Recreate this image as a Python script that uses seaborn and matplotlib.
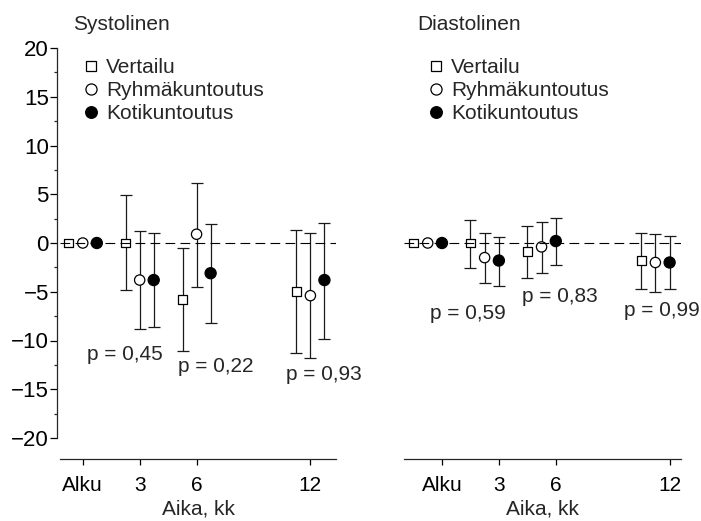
import matplotlib
matplotlib.use("Agg")
import matplotlib.pyplot as plt
from matplotlib.lines import Line2D
from matplotlib.ticker import MultipleLocator
import numpy as np
import pandas as pd
import seaborn as sns

# Follow-up time points (months); "Alku" = baseline
months = [0, 3, 6, 12]
tick_labels = ["Alku", "3", "6", "12"]
groups = ["Vertailu", "Ryhmäkuntoutus", "Kotikuntoutus"]

# Systolic change from baseline (mmHg): mean, CI low, CI high
sys_vertailu = [0.0, 0.0, -5.8, -5.0]
sys_vertailu_lo = [0.0, -4.8, -11.1, -11.3]
sys_vertailu_hi = [0.0, 4.9, -0.5, 1.3]
sys_ryhma = [0.0, -3.8, 0.9, -5.4]
sys_ryhma_lo = [0.0, -8.8, -4.5, -11.8]
sys_ryhma_hi = [0.0, 1.2, 6.2, 1.0]
sys_koti = [0.0, -3.8, -3.1, -3.8]
sys_koti_lo = [0.0, -8.6, -8.2, -9.8]
sys_koti_hi = [0.0, 1.0, 2.0, 2.1]
sys_p = ["p = 0,45", "p = 0,22", "p = 0,93"]

# Diastolic change from baseline (mmHg)
dia_vertailu = [0.0, 0.0, -0.9, -1.8]
dia_vertailu_lo = [0.0, -2.6, -3.6, -4.7]
dia_vertailu_hi = [0.0, 2.4, 1.7, 1.0]
dia_ryhma = [0.0, -1.5, -0.4, -2.0]
dia_ryhma_lo = [0.0, -4.1, -3.1, -5.0]
dia_ryhma_hi = [0.0, 1.0, 2.2, 0.9]
dia_koti = [0.0, -1.8, 0.2, -2.0]
dia_koti_lo = [0.0, -4.4, -2.3, -4.7]
dia_koti_hi = [0.0, 0.6, 2.6, 0.7]
dia_p = ["p = 0,59", "p = 0,83", "p = 0,99"]


def long_table(means, los, his):
    rows = []
    for g, m, lo, hi in zip(groups, means, los, his):
        for t, mv, lv, hv in zip(months, m, lo, hi):
            rows.append({"group": g, "month": t, "mean": mv, "lo": lv, "hi": hv})
    return pd.DataFrame(rows)


sys_df = long_table([sys_vertailu, sys_ryhma, sys_koti],
                    [sys_vertailu_lo, sys_ryhma_lo, sys_koti_lo],
                    [sys_vertailu_hi, sys_ryhma_hi, sys_koti_hi])
dia_df = long_table([dia_vertailu, dia_ryhma, dia_koti],
                    [dia_vertailu_lo, dia_ryhma_lo, dia_koti_lo],
                    [dia_vertailu_hi, dia_ryhma_hi, dia_koti_hi])

sns.set_style("ticks")
FS = 15
plt.rcParams["font.family"] = ["Liberation Sans", "DejaVu Sans"]
plt.rcParams["lines.scale_dashes"] = False
plt.rcParams["xtick.labelsize"] = FS
plt.rcParams["ytick.labelsize"] = FS

face = {"Vertailu": "white", "Ryhmäkuntoutus": "white", "Kotikuntoutus": "black"}
shape = {"Vertailu": "s", "Ryhmäkuntoutus": "o", "Kotikuntoutus": "o"}
area = {"Vertailu": 40, "Ryhmäkuntoutus": 55, "Kotikuntoutus": 64}

fig = plt.figure(figsize=(7.01, 5.21), dpi=100)
ax1 = fig.add_axes([60 / 701, 83 / 521, 276 / 701, 390 / 521])
ax2 = fig.add_axes([404 / 701, 83 / 521, 277 / 701, 390 / 521])


def draw_panel(ax, df, dodge, xlim, pvals, ppos):
    df = df.copy()
    df["x"] = df["month"] + df["group"].map(dict(zip(groups, dodge)))
    ax.axhline(0, color="black", lw=0.8, ls=(0, (7, 3.8)), zorder=5)
    for g in groups:
        sub = df[(df["group"] == g) & (df["hi"] > df["lo"])]
        ax.errorbar(sub["x"], sub["mean"],
                    yerr=[sub["mean"] - sub["lo"], sub["hi"] - sub["mean"]],
                    fmt="none", ecolor="#1a1a1a", elinewidth=0.9,
                    capsize=4.3, capthick=0.9, zorder=2)
    sns.scatterplot(data=df, x="x", y="mean", hue="group", style="group",
                    size="group", palette=face, markers=shape, sizes=area,
                    edgecolor="black", linewidth=0.9, legend=False,
                    ax=ax, zorder=4)
    for txt, (px, py) in zip(pvals, ppos):
        ax.text(px, py, txt, ha="center", va="center", fontsize=FS)
    ax.set_xlim(*xlim)
    ax.set_ylim(-20, 20)
    ax.set_xticks(months)
    ax.set_xticklabels(tick_labels)
    ax.set_xlabel("Aika, kk", fontsize=FS, labelpad=3)
    ax.set_ylabel("")
    ax.spines["top"].set_visible(False)
    ax.spines["right"].set_visible(False)
    ax.spines["bottom"].set_position(("outward", 15))
    ax.spines["bottom"].set_linewidth(0.9)
    ax.tick_params(axis="x", length=4.5, width=0.9, pad=8, colors="black",
                   labelsize=FS)


draw_panel(ax1, sys_df, [-0.74, 0.0, 0.74], (-1.2, 13.35), sys_p,
           [(2.2, -11.4), (7.0, -12.7), (12.7, -13.5)])
draw_panel(ax2, dia_df, [-1.5, -0.75, 0.0], (-2.0, 12.6), dia_p,
           [(1.36, -7.2), (6.2, -5.5), (11.6, -6.9)])

# Systolic y axis with minor ticks between labelled values
ax1.spines["left"].set_position(("outward", 2))
ax1.spines["left"].set_linewidth(0.9)
ax1.yaxis.set_major_locator(MultipleLocator(5))
ax1.yaxis.set_minor_locator(MultipleLocator(2.5))
ax1.tick_params(axis="y", which="major", length=5, width=0.9, pad=1,
                labelsize=16, colors="black")
ax1.tick_params(axis="y", which="minor", length=2.5, width=0.9)

# Diastolic panel has no y axis
ax2.spines["left"].set_visible(False)
ax2.set_yticks([])

fig.text(73 / 701, 1 - 30 / 521, "Systolinen", fontsize=FS, va="baseline")
fig.text(417 / 701, 1 - 30 / 521, "Diastolinen", fontsize=FS, va="baseline")

handles = [
    Line2D([], [], ls="none", marker="s", ms=7.0, mfc="white", mec="black", mew=0.9),
    Line2D([], [], ls="none", marker="o", ms=8.0, mfc="white", mec="black", mew=0.9),
    Line2D([], [], ls="none", marker="o", ms=8.4, mfc="black", mec="black", mew=0.9),
]
for ax, lx in [(ax1, 83), (ax2, 428)]:
    ax.legend(handles, groups, loc="upper left",
              bbox_to_anchor=(lx / 701, 1 - 58 / 521),
              bbox_transform=fig.transFigure, frameon=False, fontsize=FS,
              borderpad=0, borderaxespad=0, handlelength=0.8,
              handletextpad=0.3, labelspacing=0.2)

fig.savefig("out.png", dpi=100)
